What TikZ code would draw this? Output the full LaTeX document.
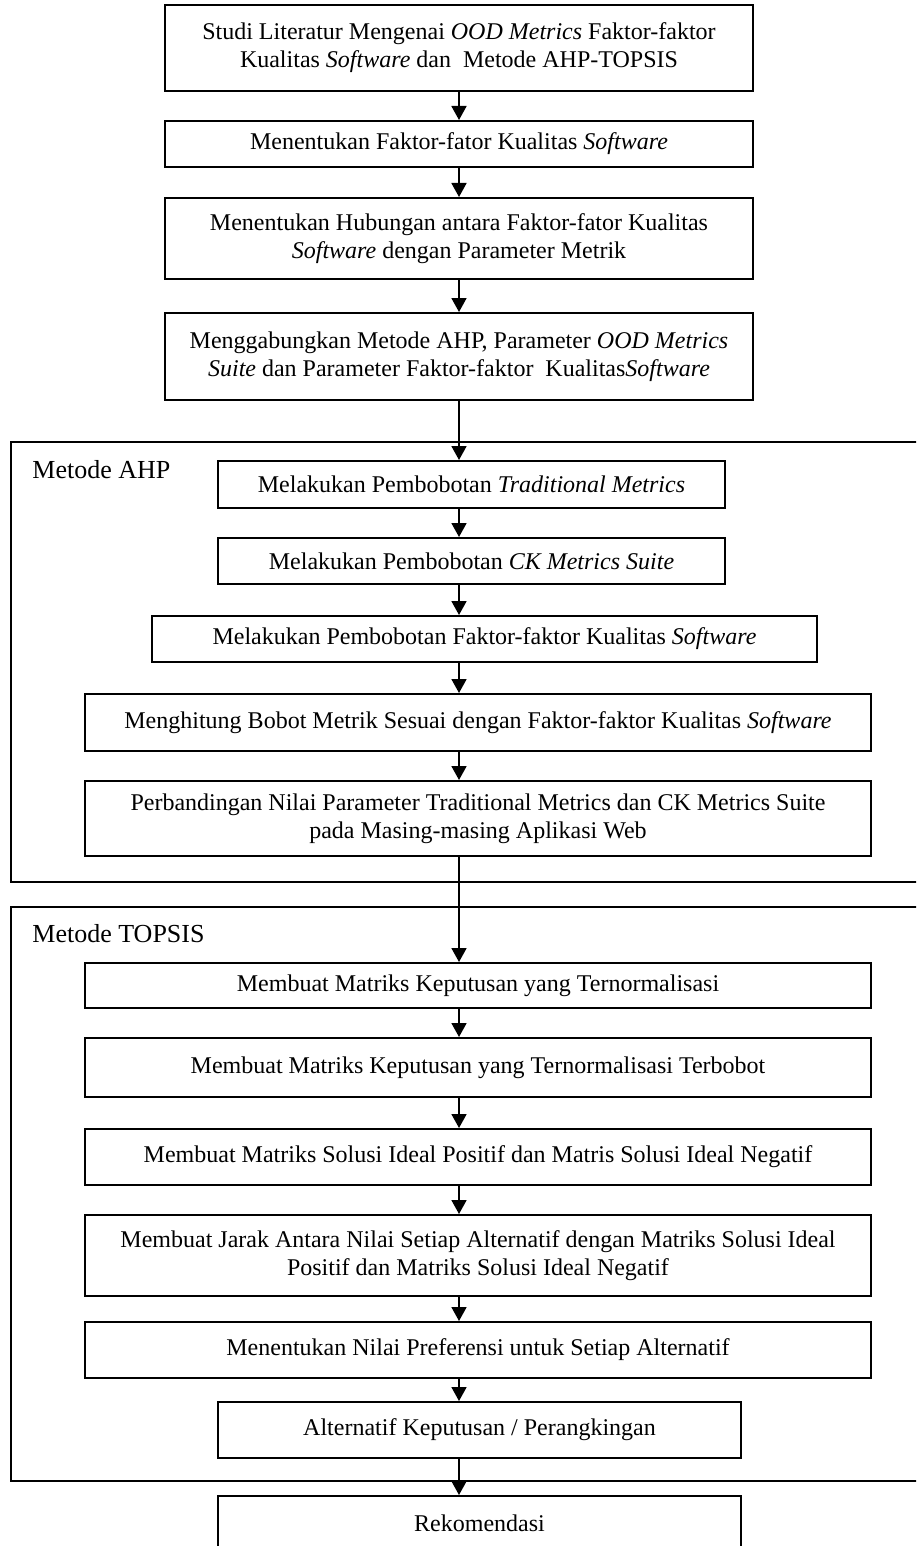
\documentclass[tikz,border=0pt]{standalone}
\usepackage{fontspec}
\setmainfont{Liberation Serif}
\usetikzlibrary{arrows.meta}
\tikzset{
  box/.style={draw=black, line width=1pt, align=center, inner sep=2pt,
    font=\fontsize{12}{14}\selectfont},
  grp/.style={draw=black, line width=1pt},
  grplabel/.style={anchor=base west, inner sep=0pt, font=\fontsize{13}{15}\selectfont},
  flow/.style={line width=0.9pt, -{Triangle[length=7pt,width=7.5pt]}}
}
\begin{document}
\begin{tikzpicture}[x=0.5pt,y=-0.5pt]
\clip (0,0) rectangle (916,1546);
\fill[white] (0,0) rectangle (916,1546);
% groups
\draw[grp] (11,442) rectangle (940,882);
\draw[grp] (11,907) rectangle (940,1481);
\node[grplabel] (lahp) at (32,478) {Metode AHP};
\node[grplabel] (ltop) at (32,942) {Metode TOPSIS};
% boxes
\node[box, minimum width=294pt, minimum height=43pt] (b1) at (459,48)
  {Studi Literatur Mengenai \textit{OOD Metrics} Faktor-faktor\\Kualitas \textit{Software} dan\ \ Metode AHP-TOPSIS};
\node[box, minimum width=294pt, minimum height=23pt] (b2) at (459,144)
  {Menentukan Faktor-fator Kualitas \textit{Software}};
\node[box, minimum width=294pt, minimum height=40.5pt] (b3) at (459,238.5)
  {Menentukan Hubungan antara Faktor-fator Kualitas\\\textit{Software} dengan Parameter Metrik};
\node[box, minimum width=294pt, minimum height=43.5pt] (b4) at (459,356.5)
  {Menggabungkan Metode AHP, Parameter \textit{OOD Metrics}\\\textit{Suite} dan Parameter Faktor-faktor\ \ Kualitas\textit{Software}};
\node[box, minimum width=253.5pt, minimum height=23.5pt] (b5) at (471.5,484.5)
  {Melakukan Pembobotan \textit{Traditional Metrics}};
\node[box, minimum width=253.5pt, minimum height=23pt] (b6) at (471.5,561)
  {Melakukan Pembobotan \textit{CK Metrics Suite}};
\node[box, minimum width=332.5pt, minimum height=23pt] (b7) at (484.5,639)
  {Melakukan Pembobotan Faktor-faktor Kualitas \textit{Software}};
\node[box, minimum width=393pt, minimum height=28.5pt] (b8) at (478,722.5)
  {Menghitung Bobot Metrik Sesuai dengan Faktor-faktor Kualitas \textit{Software}};
\node[box, minimum width=393pt, minimum height=37.5pt] (b9) at (478,818.5)
  {Perbandingan Nilai Parameter Traditional Metrics dan CK Metrics Suite\\pada Masing-masing Aplikasi Web};
\node[box, minimum width=393pt, minimum height=22.5pt] (b10) at (478,985.5)
  {Membuat Matriks Keputusan yang Ternormalisasi};
\node[box, minimum width=393pt, minimum height=29.5pt] (b11) at (478,1067.5)
  {Membuat Matriks Keputusan yang Ternormalisasi Terbobot};
\node[box, minimum width=393pt, minimum height=28pt] (b12) at (478,1157)
  {Membuat Matriks Solusi Ideal Positif dan Matris Solusi Ideal Negatif};
\node[box, minimum width=393pt, minimum height=40.5pt] (b13) at (478,1255.5)
  {Membuat Jarak Antara Nilai Setiap Alternatif dengan Matriks Solusi Ideal\\Positif dan Matriks Solusi Ideal Negatif};
\node[box, minimum width=393pt, minimum height=28pt] (b14) at (478,1350)
  {Menentukan Nilai Preferensi untuk Setiap Alternatif};
\node[box, minimum width=261.5pt, minimum height=28pt] (b15) at (479.5,1430)
  {Alternatif Keputusan / Perangkingan};
\node[box, minimum width=261.5pt, minimum height=27pt] (b16) at (479.5,1523)
  {Rekomendasi};
% arrows
\foreach \a/\b in {b1/b2,b2/b3,b3/b4,b4/b5,b5/b6,b6/b7,b7/b8,b8/b9,b9/b10,b10/b11,b11/b12,b12/b13,b13/b14,b14/b15,b15/b16}{
  \draw[flow] (b1.south |- \a.south) -- (b1.south |- \b.north);
}
\end{tikzpicture}
\end{document}
